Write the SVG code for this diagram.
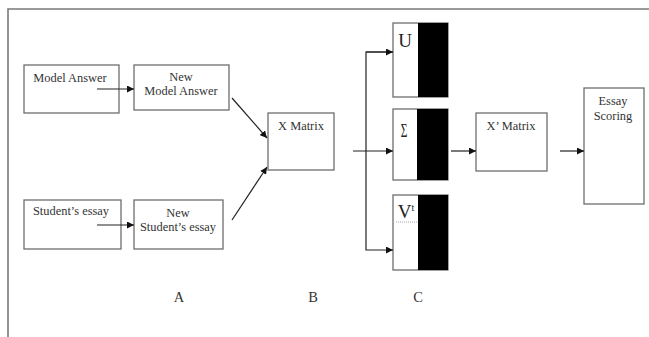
<svg xmlns="http://www.w3.org/2000/svg" width="649" height="337" viewBox="0 0 649 337">
<defs>
<marker id="ah" viewBox="0 0 10 10" refX="10" refY="5" markerWidth="7" markerHeight="7" markerUnits="userSpaceOnUse" orient="auto"><path d="M0,0 L10,5 L0,10 z" fill="#111"/></marker>
<style>
.box{fill:#fff;stroke:#6e6e6e;stroke-width:1.3}
.blk{fill:#000}
.t{font-family:"Liberation Serif","Times New Roman",serif;font-size:12.4px;fill:#333;text-anchor:middle}
.m{font-family:"Liberation Serif","Times New Roman",serif;font-size:19px;fill:#222;text-anchor:middle}
.lbl{font-family:"Liberation Serif","Times New Roman",serif;font-size:14.5px;fill:#333;text-anchor:middle}
.c{fill:none;stroke:#222;stroke-width:1.2}
</style>
</defs>
<rect width="649" height="337" fill="#fff"/>
<path d="M8,337 V9 H649" fill="none" stroke="#7a7a7a" stroke-width="1.6"/>
<g id="model-answer"><rect class="box" x="24" y="65" width="95" height="48"/><text class="t" x="70" y="82">Model Answer</text></g>
<g id="new-model-answer"><rect class="box" x="134" y="65" width="95" height="45"/><text class="t" x="181" y="81">New</text><text class="t" x="181" y="95">Model Answer</text></g>
<g id="students-essay"><rect class="box" x="24" y="200" width="97" height="49"/><text class="t" x="71" y="215">Student’s essay</text></g>
<g id="new-students-essay"><rect class="box" x="134" y="200" width="89" height="49"/><text class="t" x="178" y="217">New</text><text class="t" x="178" y="231">Student’s essay</text></g>
<g id="x-matrix"><rect class="box" x="268" y="113" width="66" height="57"/><text class="t" x="301" y="130">X Matrix</text></g>
<g id="u"><rect class="box" x="393" y="23" width="55" height="74"/><rect class="blk" x="418" y="23" width="30" height="74"/><text class="m" x="405" y="47">U</text></g>
<g id="sigma"><rect class="box" x="393" y="109" width="55" height="71"/><rect class="blk" x="417" y="109" width="31" height="71"/><text class="m" transform="translate(404,137) scale(0.6,1)" x="0" y="0">Σ</text></g>
<g id="vt"><rect class="box" x="393" y="195" width="55" height="75"/><rect class="blk" x="418" y="195" width="30" height="75"/><text class="m" x="406" y="218">V<tspan dy="-7" style="font-size:10px">t</tspan></text><path d="M396,222 H417" stroke="#8a8aa0" stroke-width="0.8" stroke-dasharray="1,1"/></g>
<g id="x-prime-matrix"><rect class="box" x="476" y="113" width="71" height="58"/><text class="t" x="511" y="130">X’ Matrix</text></g>
<g id="essay-scoring"><rect class="box" x="584" y="88" width="60" height="116"/><text class="t" x="613" y="105">Essay</text><text class="t" x="613" y="120">Scoring</text></g>
<g id="label-a"><text class="lbl" x="179" y="302">A</text></g>
<g id="label-b"><text class="lbl" x="313" y="302">B</text></g>
<g id="label-c"><text class="lbl" x="418" y="302">C</text></g>
<g id="connectors">
<path class="c" d="M97,89 H134" marker-end="url(#ah)"/>
<path class="c" d="M97,225 H134" marker-end="url(#ah)"/>
<path class="c" d="M232,98 L267,138" marker-end="url(#ah)"/>
<path class="c" d="M232,220 L267,167" marker-end="url(#ah)"/>
<path class="c" d="M353,151 H393" marker-end="url(#ah)"/>
<path class="c" d="M393,52 H366 V250 H393" marker-end="url(#ah)"/>
<path class="c" d="M366,52 H393" marker-end="url(#ah)"/>
<path class="c" d="M451,151 H476" marker-end="url(#ah)"/>
<path class="c" d="M560,151 H584" marker-end="url(#ah)"/>
</g>
</svg>
